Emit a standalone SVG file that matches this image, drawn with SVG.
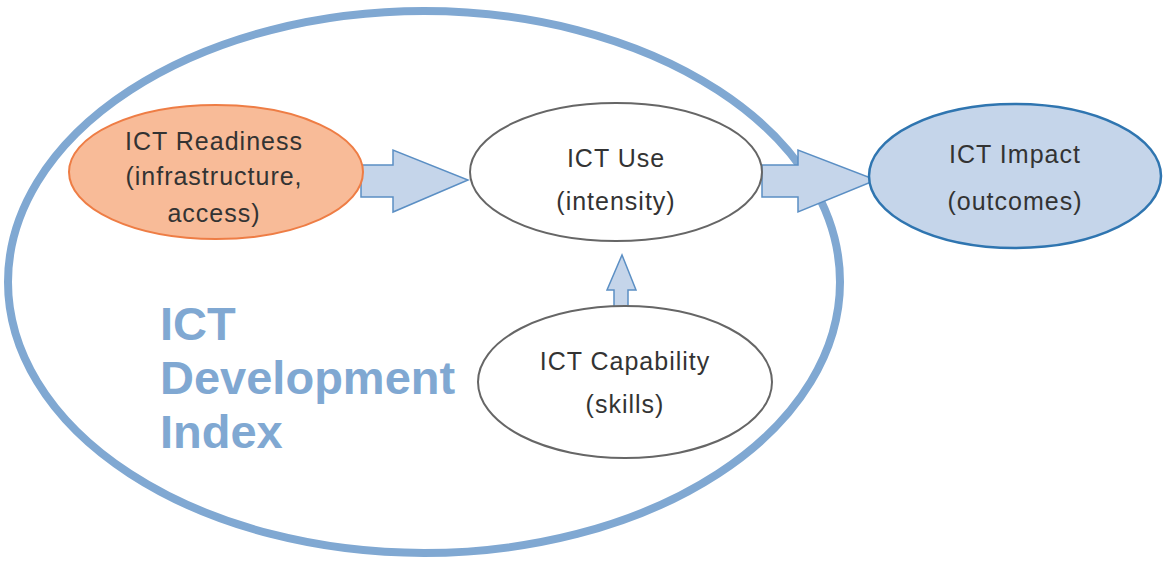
<svg xmlns="http://www.w3.org/2000/svg" width="1163" height="561" viewBox="0 0 1163 561">
<style>
.lbl{font-family:"Liberation Sans",Arial,sans-serif;font-size:25px;letter-spacing:1px;fill:#333;text-anchor:middle}
.big{font-family:"Liberation Sans",Arial,sans-serif;font-size:47px;font-weight:bold;fill:#80a8d2}
.arr{fill:#c5d5ea;stroke:#5b8fc4;stroke-width:1.5}
</style>
<rect width="1163" height="561" fill="#fff"/>
<g id="idi">
<ellipse cx="424" cy="282" rx="416" ry="271" fill="none" stroke="#80a8d2" stroke-width="8"/>
<text class="big" x="160" y="340">ICT</text>
<text class="big" x="160" y="394">Development</text>
<text class="big" x="160" y="448">Index</text>
</g>
<g id="connectors">
<polygon class="arr" points="361,165 393,165 393,150 468,180 393,212 393,197 361,197"/>
<polygon class="arr" points="762,165 798,165 798,150 876,180 798,212 798,197 762,197"/>
<polygon class="arr" points="614,307 614,290 607,290 622,255 636,290 628,290 628,307"/>
</g>
<g id="readiness">
<ellipse cx="216" cy="172" rx="147" ry="67" fill="#f8bb98" stroke="#ee7d45" stroke-width="2"/>
<text class="lbl" x="214" y="150">ICT Readiness</text>
<text class="lbl" x="214" y="185">(infrastructure,</text>
<text class="lbl" x="214" y="222">access)</text>
</g>
<g id="use">
<ellipse cx="616" cy="172" rx="146" ry="69" fill="#fff" stroke="#666" stroke-width="2"/>
<text class="lbl" x="616" y="167">ICT Use</text>
<text class="lbl" x="616" y="210">(intensity)</text>
</g>
<g id="impact">
<ellipse cx="1015" cy="176" rx="146" ry="72" fill="#c5d5ea" stroke="#2f75b0" stroke-width="2.5"/>
<text class="lbl" x="1015" y="163">ICT Impact</text>
<text class="lbl" x="1015" y="210">(outcomes)</text>
</g>
<g id="capability">
<ellipse cx="625" cy="382" rx="147" ry="76" fill="#fff" stroke="#666" stroke-width="2"/>
<text class="lbl" x="625" y="370">ICT Capability</text>
<text class="lbl" x="625" y="413">(skills)</text>
</g>
</svg>
